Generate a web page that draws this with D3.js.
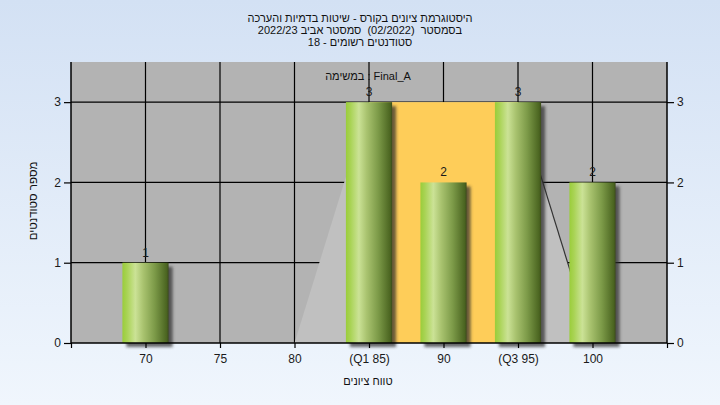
<!DOCTYPE html>
<html><head><meta charset="utf-8">
<script src="https://cdn.jsdelivr.net/npm/d3@7"></script>
<style>html,body{margin:0;padding:0;}svg{display:block;}</style>
</head><body>
<script>
// ---- data ----
const tickValues = [70, 75, 80, 85, 90, 95, 100];
const tickLabels = ["70", "75", "80", "(Q1 85)", "90", "(Q3 95)", "100"];
const barGrades = [70, 85, 90, 95, 100];
const barCounts = [1, 3, 2, 3, 2];
const yTicks = [0, 1, 2, 3];
const areaGrades = [80, 85, 95, 100];
const areaValues = [0, 3, 3, 0];
const quartiles = [85, 95];
const quartileHeight = 3;
const titleLines = [
  "היסטוגרמת ציונים בקורס - שיטות בדמיות והערכה",
  "בסמסטר  (02/2022)  סמסטר אביב 2022/23",
  "סטודנטים רשומים - 18"
];
const legendText = "במשימה : Final_A";
const xTitle = "טווח ציונים";
const yTitle = "מספר סטודנטים";

// ---- drawing ----
const W = 720, H = 405;
const FONT = "'Liberation Sans', Arial, sans-serif";
const m = {left: 71, right: 53, top: 62, bottom: 62};
const svg = d3.select("body").append("svg").attr("width", W).attr("height", H)
  .style("font-family", FONT);
const defs = svg.append("defs");
const bg = defs.append("linearGradient").attr("id", "bg").attr("x1", 0).attr("y1", 0).attr("x2", 0).attr("y2", 1);
bg.append("stop").attr("offset", "0%").attr("stop-color", "#d3e1f4");
bg.append("stop").attr("offset", "100%").attr("stop-color", "#f0f6fd");
const bgrad = defs.append("linearGradient").attr("id", "bar").attr("x1", 0).attr("y1", 0).attr("x2", 1).attr("y2", 0);
[["0%", "#9acd3a"], ["10%", "#a9d355"], ["28%", "#cbe296"], ["45%", "#a9c36f"], ["70%", "#7c9a48"], ["96%", "#4a6420"], ["100%", "#3c4a1c"]]
  .forEach(([o, c]) => bgrad.append("stop").attr("offset", o).attr("stop-color", c));
const blur = defs.append("filter").attr("id", "blur").attr("x", "-20%").attr("y", "-20%").attr("width", "140%").attr("height", "140%");
blur.append("feGaussianBlur").attr("stdDeviation", 1.6);

svg.append("rect").attr("width", W).attr("height", H).attr("fill", "url(#bg)");

const x = d3.scaleLinear().domain([65, 105]).range([m.left, W - m.right]);
const y = d3.scaleLinear().domain([0, 3.5]).range([H - m.bottom, m.top]);
const pw = W - m.right - m.left;

// plot bg
svg.append("rect").attr("x", m.left).attr("y", m.top).attr("width", pw).attr("height", y(0) - m.top).attr("fill", "#b3b3b3");

// gridlines
const grid = svg.append("g").attr("stroke", "#000").attr("stroke-width", 1.2);
tickValues.forEach(v => grid.append("line").attr("x1", x(v)).attr("x2", x(v)).attr("y1", m.top).attr("y2", y(0)));
yTicks.slice(1).forEach(v => grid.append("line").attr("x1", m.left).attr("x2", W - m.right).attr("y1", y(v)).attr("y2", y(v)));

// area
const pts = areaGrades.map((g, i) => [g, areaValues[i]]);
svg.append("path").attr("d", d3.area().x(d => x(d[0])).y0(y(0)).y1(d => y(d[1]))(pts)).attr("fill", "#c0c0c0");
svg.append("line").attr("x1", x(areaGrades[2])).attr("y1", y(areaValues[2])).attr("x2", x(areaGrades[3])).attr("y2", y(areaValues[3]))
  .attr("stroke", "#333").attr("stroke-width", 1.2);

// quartile band
svg.append("rect").attr("x", x(quartiles[0])).attr("width", x(quartiles[1]) - x(quartiles[0]))
  .attr("y", y(quartileHeight)).attr("height", y(0) - y(quartileHeight)).attr("fill", "#fecd59");

// bars
const bw = x(3.1) - x(0);
const bars = svg.append("g");
barGrades.forEach((g, i) => {
  bars.append("rect").attr("x", x(g) - bw / 2 + 4).attr("y", y(barCounts[i]) + 4).attr("width", bw).attr("height", y(0) - y(barCounts[i]))
    .attr("fill", "#2a2a2a").attr("opacity", 0.7).attr("filter", "url(#blur)");
});
barGrades.forEach((g, i) => {
  bars.append("rect").attr("x", x(g) - bw / 2).attr("y", y(barCounts[i])).attr("width", bw).attr("height", y(0) - y(barCounts[i]))
    .attr("fill", "url(#bar)");
  svg.append("text").attr("x", x(g)).attr("y", y(barCounts[i]) - 6).attr("text-anchor", "middle")
    .attr("font-size", 12).attr("fill", "#1a1a1a").text(barCounts[i]);
});

// axes
const xAxis = svg.append("g").attr("transform", `translate(0,${y(0)})`)
  .call(d3.axisBottom(x).tickValues([65].concat(tickValues).concat([105])).tickSize(5).tickPadding(6)
    .tickFormat(d => { const k = tickValues.indexOf(d); return k >= 0 ? tickLabels[k] : ""; }));
const yl = svg.append("g").attr("transform", `translate(${m.left},0)`).call(d3.axisLeft(y).tickValues(yTicks).tickSize(7).tickPadding(3).tickFormat(d3.format("d")));
const yr = svg.append("g").attr("transform", `translate(${W - m.right},0)`).call(d3.axisRight(y).tickValues(yTicks).tickSize(7).tickPadding(3).tickFormat(d3.format("d")));
[xAxis, yl, yr].forEach(a => {
  a.select(".domain").remove();
  a.selectAll("line").attr("stroke", "#000").attr("stroke-width", 1.2);
  a.selectAll("text").attr("font-size", 12).attr("fill", "#1a1a1a").style("font-family", FONT);
});
const ax = svg.append("g").attr("stroke", "#000").attr("stroke-width", 1.5);
ax.append("line").attr("x1", m.left).attr("x2", W - m.right).attr("y1", y(0)).attr("y2", y(0));
ax.append("line").attr("x1", m.left).attr("x2", m.left).attr("y1", m.top).attr("y2", y(0));
ax.append("line").attr("x1", W - m.right).attr("x2", W - m.right).attr("y1", m.top).attr("y2", y(0));

// titles (natural right-to-left Hebrew)
titleLines.forEach((t, i) => {
  svg.append("text").attr("x", 360).attr("y", 22 + i * 12).attr("text-anchor", "middle").attr("font-size", 11)
    .attr("direction", "rtl").style("white-space", "pre").attr("fill", "#111").text(t);
});
svg.append("text").attr("x", 368).attr("y", 80).attr("text-anchor", "middle").attr("font-size", 11).attr("fill", "#111")
  .attr("direction", "ltr").text(legendText);
svg.append("text").attr("x", 368).attr("y", 385).attr("text-anchor", "middle").attr("font-size", 11).attr("fill", "#111")
  .attr("direction", "rtl").text(xTitle);
svg.append("text").attr("transform", "translate(37,201) rotate(-90)").attr("text-anchor", "middle").attr("font-size", 11.5)
  .attr("direction", "rtl").attr("fill", "#111").text(yTitle);
</script>
</body></html>
